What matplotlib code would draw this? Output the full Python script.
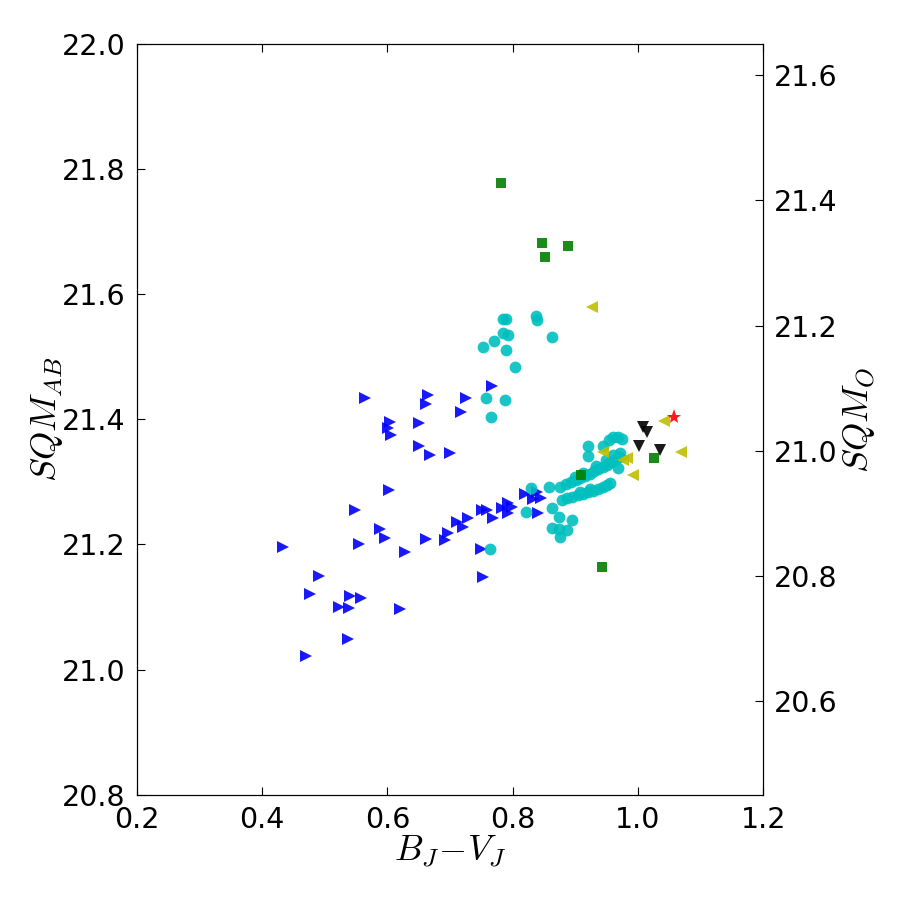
import matplotlib
matplotlib.use('Agg')
import matplotlib.pyplot as plt

plt.rcParams['mathtext.fontset'] = 'cm'
plt.rcParams['font.family'] = ['DejaVu Sans']

# B_J - V_J colour and SQM_AB per group
blue_x = [0.433, 0.470, 0.491, 0.476, 0.523, 0.540, 0.539, 0.558, 0.537, 0.548,
          0.555, 0.564, 0.588, 0.596, 0.603, 0.604, 0.601, 0.606, 0.628, 0.620,
          0.650, 0.650, 0.662, 0.665, 0.668, 0.662, 0.700, 0.692, 0.697, 0.718,
          0.726, 0.767, 0.711, 0.721, 0.729, 0.750, 0.751, 0.759, 0.769, 0.783,
          0.793, 0.799, 0.793, 0.820, 0.839, 0.833, 0.845, 0.841, 0.753]
blue_y = [21.196, 21.022, 21.150, 21.121, 21.100, 21.118, 21.099, 21.115, 21.049, 21.255,
          21.201, 21.434, 21.225, 21.211, 21.287, 21.396, 21.386, 21.375, 21.188, 21.097,
          21.394, 21.358, 21.425, 21.439, 21.343, 21.209, 21.346, 21.207, 21.219, 21.412,
          21.434, 21.454, 21.236, 21.228, 21.243, 21.193, 21.255, 21.255, 21.243, 21.259,
          21.267, 21.260, 21.251, 21.281, 21.284, 21.273, 21.275, 21.251, 21.148]

cyan_x = [0.753, 0.770, 0.785, 0.789, 0.785, 0.793, 0.789, 0.804, 0.837, 0.839,
          0.863, 0.758, 0.788, 0.765, 0.764,
          0.829, 0.858, 0.821, 0.863, 0.874, 0.895, 0.863, 0.874, 0.887, 0.876,
          0.876, 0.885, 0.893, 0.901, 0.908, 0.916, 0.924, 0.930, 0.936, 0.944,
          0.951, 0.957, 0.964, 0.970, 0.900, 0.912, 0.933, 0.949, 0.960, 0.972,
          0.968, 0.920, 0.920, 0.944, 0.954, 0.960, 0.968, 0.975,
          0.879, 0.887, 0.895, 0.904, 0.912, 0.920, 0.928, 0.936, 0.944, 0.951,
          0.956, 0.908, 0.924]
cyan_y = [21.516, 21.525, 21.561, 21.561, 21.538, 21.535, 21.511, 21.484, 21.565, 21.559,
          21.532, 21.434, 21.431, 21.404, 21.193,
          21.291, 21.292, 21.252, 21.259, 21.244, 21.239, 21.227, 21.225, 21.223, 21.212,
          21.292, 21.297, 21.300, 21.303, 21.307, 21.310, 21.313, 21.318, 21.321, 21.324,
          21.327, 21.332, 21.335, 21.340, 21.308, 21.315, 21.326, 21.335, 21.343, 21.346,
          21.322, 21.358, 21.342, 21.358, 21.367, 21.372, 21.372, 21.369,
          21.271, 21.275, 21.276, 21.279, 21.281, 21.284, 21.286, 21.289, 21.292, 21.295,
          21.299, 21.284, 21.289]

green_x = [0.781, 0.847, 0.888, 0.852, 0.909, 0.943, 1.026]
green_y = [21.778, 21.682, 21.677, 21.660, 21.311, 21.164, 21.338]

yellow_x = [0.927, 1.042, 0.944, 0.976, 0.983, 0.992, 1.069]
yellow_y = [21.580, 21.398, 21.348, 21.335, 21.338, 21.311, 21.348]

black_x = [1.008, 1.015, 1.002, 1.035]
black_y = [21.388, 21.380, 21.358, 21.351]

red_x = [1.058]
red_y = [21.404]

fig = plt.figure(figsize=(9, 9), dpi=100)
ax = fig.add_axes([0.152, 0.117, 0.696, 0.834])

kw = dict(linestyle='none', markeredgewidth=0, alpha=0.9)
ax.plot(blue_x, blue_y, '>', color='b', markersize=8.5, **kw)
ax.plot(cyan_x, cyan_y, 'o', color='c', markersize=8.5, **kw)
ax.plot(green_x, green_y, 's', color='g', markersize=7.5, **kw)
ax.plot(yellow_x, yellow_y, '<', color='y', markersize=8.5, **kw)
ax.plot(black_x, black_y, 'v', color='k', markersize=8.5, **kw)
ax.plot(red_x, red_y, '*', color='r', markersize=11, **kw)

ax.set_xlim(0.2, 1.2)
ax.set_ylim(20.8, 22.0)
ax.set_xticks([0.2, 0.4, 0.6, 0.8, 1.0, 1.2])
ax.set_yticks([20.8, 21.0, 21.2, 21.4, 21.6, 21.8, 22.0])
ax.tick_params(direction='in', labelsize=20.5, length=6, pad=8, top=True)
ax.set_xlabel(r'$B_J\!-\!V_J$', fontsize=26, labelpad=0)
ax.set_ylabel(r'$SQM_{AB}$', fontsize=26, labelpad=-2)

ax2 = ax.twinx()
ax2.set_ylim(20.45, 21.65)
ax2.set_yticks([20.6, 20.8, 21.0, 21.2, 21.4, 21.6])
ax2.tick_params(direction='in', labelsize=20.5, length=6, pad=8)
ax2.set_ylabel(r'$SQM_O$', fontsize=26, labelpad=2)

fig.savefig('out.png', dpi=100)
